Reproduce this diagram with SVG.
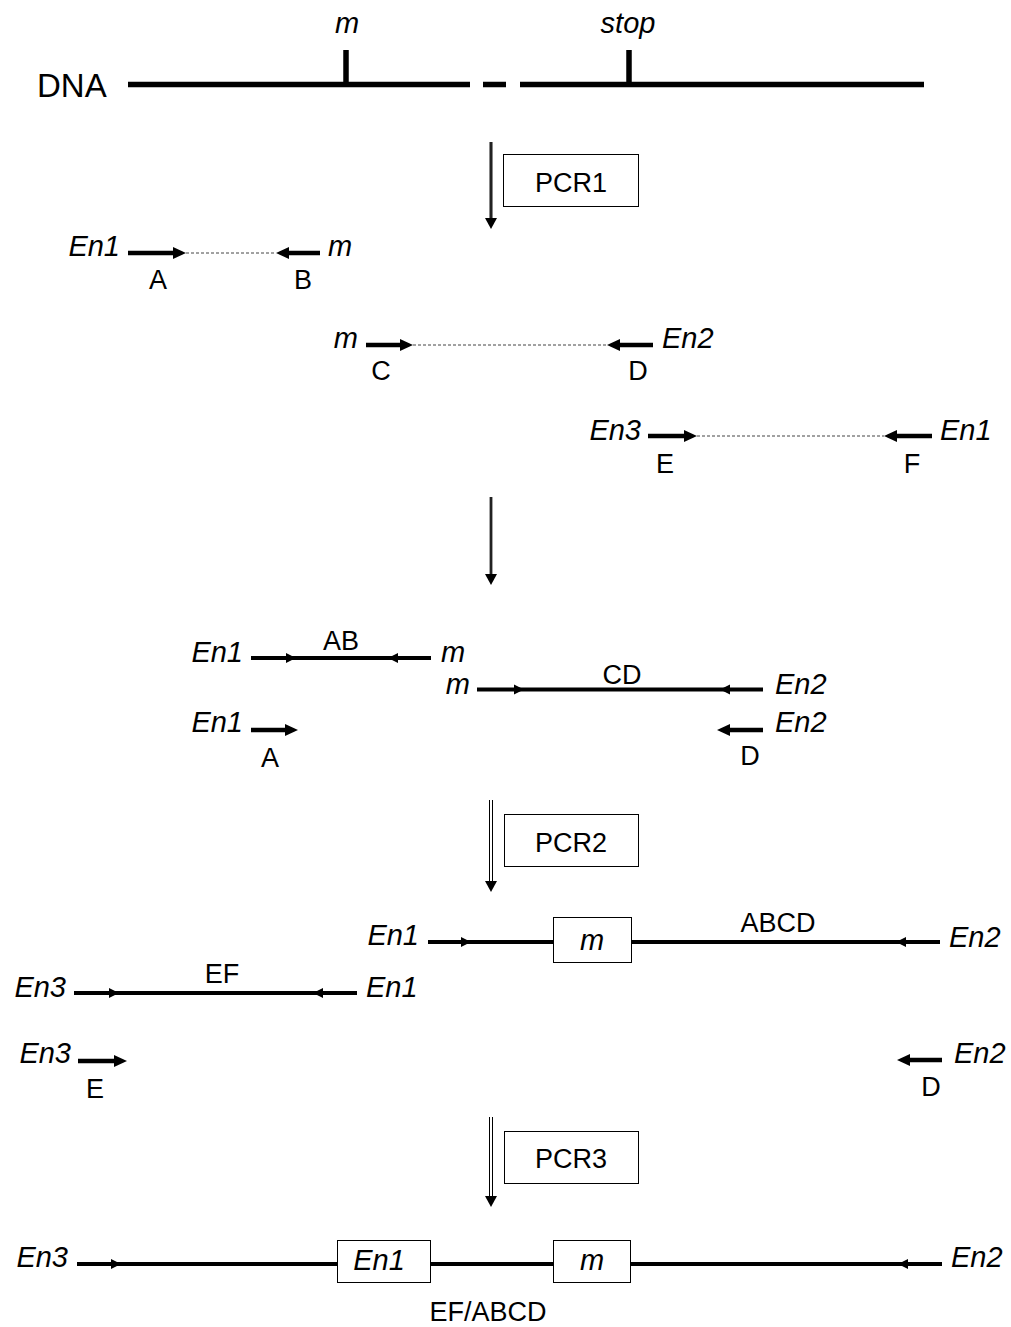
<svg xmlns="http://www.w3.org/2000/svg" xmlns:xlink="http://www.w3.org/1999/xlink" width="1011" height="1327" viewBox="0 0 1011 1327">
<style>
text{font-family:"Liberation Sans",Arial,sans-serif;fill:#000}
.it{font-style:italic;font-size:29px}
.lb{font-size:27px}
.pcr{font-size:27px}
.dna{stroke:#000;stroke-width:5.5;fill:none}
.pr{stroke:#000;stroke-width:4.5;fill:none}
.prod{stroke:#000;stroke-width:4;fill:none}
.dash{stroke:#444;stroke-width:1;stroke-dasharray:3 2;fill:none}
.box{fill:#fff;stroke:#000;stroke-width:1}
.thin{stroke:#000;stroke-width:1;fill:none}
</style>
<defs>
<polygon id="hrB" points="0,0 -13,-6 -13,6"/>
<polygon id="hlB" points="0,0 13,-6 13,6"/>
<polygon id="hrS" points="0,0 -10,-5 -10,5"/>
<polygon id="hlS" points="0,0 10,-5 10,5"/>
<polygon id="hd" points="0,0 -6,-11 6,-11"/>
</defs>
<rect width="1011" height="1327" fill="#fff"/>

<g id="dna">
<path class="dna" d="M128,84.5H470M483,84.5H506M520,84.5H924M346,50V84.5M629,50V84.5"/>
<text x="37" y="97" style="font-size:33px">DNA</text>
<text class="it" x="347" y="33" text-anchor="middle">m</text>
<text class="it" x="628" y="33" text-anchor="middle">stop</text>
</g>

<g id="pcr1">
<rect class="box" x="503.5" y="154.5" width="135" height="52"/>
<text class="pcr" x="571" y="192" text-anchor="middle">PCR1</text>
</g>
<g id="pcr2">
<rect class="box" x="504.5" y="814.5" width="134" height="52"/>
<text class="pcr" x="571" y="852" text-anchor="middle">PCR2</text>
</g>
<g id="pcr3">
<rect class="box" x="504.5" y="1131.5" width="134" height="52"/>
<text class="pcr" x="571" y="1168" text-anchor="middle">PCR3</text>
</g>

<g id="connectors">
<path d="M491,142V218" stroke="#888" stroke-width="4"/>
<path d="M491,142V218" stroke="#000" stroke-width="1.5"/>
<use xlink:href="#hd" x="491" y="229"/>
<path d="M491,497V574" stroke="#888" stroke-width="3.5"/>
<path d="M491,497V574" stroke="#000" stroke-width="1.5"/>
<use xlink:href="#hd" x="491" y="585"/>
<path class="thin" d="M489.5,800V882M492.5,800V882"/>
<use xlink:href="#hd" x="491" y="892"/>
<path class="thin" d="M489.5,1117V1197M492.5,1117V1197"/>
<use xlink:href="#hd" x="491" y="1207"/>
</g>

<g id="fragAB">
<path class="pr" d="M128,253H174M320,253H288"/>
<use xlink:href="#hrB" x="186" y="253"/>
<use xlink:href="#hlB" x="276" y="253"/>
<path class="dash" d="M186,253H276"/>
<text class="it" x="120" y="256" text-anchor="end">En1</text>
<text class="it" x="328" y="256">m</text>
<text class="lb" x="158" y="289" text-anchor="middle">A</text>
<text class="lb" x="303" y="289" text-anchor="middle">B</text>
</g>

<g id="fragCD">
<path class="pr" d="M366,345H401M653,345H619"/>
<use xlink:href="#hrB" x="413" y="345"/>
<use xlink:href="#hlB" x="607" y="345"/>
<path class="dash" d="M413,345H607"/>
<text class="it" x="358" y="348" text-anchor="end">m</text>
<text class="it" x="662" y="348">En2</text>
<text class="lb" x="381" y="380" text-anchor="middle">C</text>
<text class="lb" x="638" y="380" text-anchor="middle">D</text>
</g>

<g id="fragEF">
<path class="pr" d="M648,436H685M932,436H896"/>
<use xlink:href="#hrB" x="697" y="436"/>
<use xlink:href="#hlB" x="884" y="436"/>
<path class="dash" d="M697,436H884"/>
<text class="it" x="641" y="440" text-anchor="end">En3</text>
<text class="it" x="940" y="440">En1</text>
<text class="lb" x="665" y="473" text-anchor="middle">E</text>
<text class="lb" x="912" y="473" text-anchor="middle">F</text>
</g>

<g id="productAB">
<path class="prod" d="M251,658H431"/>
<use xlink:href="#hrS" x="296" y="658"/>
<use xlink:href="#hlS" x="388" y="658"/>
<text class="it" x="243" y="662" text-anchor="end">En1</text>
<text class="it" x="441" y="662">m</text>
<text class="lb" x="341" y="650" text-anchor="middle">AB</text>
</g>

<g id="productCD">
<path class="prod" d="M477,689.5H763"/>
<use xlink:href="#hrS" x="524" y="689.5"/>
<use xlink:href="#hlS" x="720" y="689.5"/>
<text class="it" x="470" y="694" text-anchor="end">m</text>
<text class="it" x="775" y="694">En2</text>
<text class="lb" x="622" y="684" text-anchor="middle">CD</text>
</g>

<g id="primerA">
<path class="pr" d="M251,730H286"/>
<use xlink:href="#hrB" x="298" y="730"/>
<text class="it" x="243" y="732" text-anchor="end">En1</text>
<text class="lb" x="270" y="767" text-anchor="middle">A</text>
</g>

<g id="primerD1">
<path class="pr" d="M763,730H729"/>
<use xlink:href="#hlB" x="717" y="730"/>
<text class="it" x="775" y="732">En2</text>
<text class="lb" x="750" y="765" text-anchor="middle">D</text>
</g>

<g id="productABCD">
<path class="prod" d="M428,942H940"/>
<use xlink:href="#hrS" x="471" y="942"/>
<use xlink:href="#hlS" x="896" y="942"/>
<rect class="box" x="553.5" y="917.5" width="78" height="45"/>
<text class="it" x="592" y="950" text-anchor="middle">m</text>
<text class="it" x="419" y="945" text-anchor="end">En1</text>
<text class="it" x="949" y="947">En2</text>
<text class="lb" x="778" y="932" text-anchor="middle">ABCD</text>
</g>

<g id="productEF">
<path class="prod" d="M74,993H357"/>
<use xlink:href="#hrS" x="119" y="993"/>
<use xlink:href="#hlS" x="313" y="993"/>
<text class="it" x="66" y="997" text-anchor="end">En3</text>
<text class="it" x="366" y="997">En1</text>
<text class="lb" x="222" y="983" text-anchor="middle">EF</text>
</g>

<g id="primerE">
<path class="pr" d="M78,1061H115"/>
<use xlink:href="#hrB" x="127" y="1061"/>
<text class="it" x="71" y="1063" text-anchor="end">En3</text>
<text class="lb" x="95" y="1098" text-anchor="middle">E</text>
</g>

<g id="primerD2">
<path class="pr" d="M942,1060H909"/>
<use xlink:href="#hlB" x="897" y="1060"/>
<text class="it" x="954" y="1063">En2</text>
<text class="lb" x="931" y="1096" text-anchor="middle">D</text>
</g>

<g id="productEFABCD">
<path class="prod" d="M77,1264H942"/>
<use xlink:href="#hrS" x="121" y="1264"/>
<use xlink:href="#hlS" x="898" y="1264"/>
<rect class="box" x="337.5" y="1240.5" width="93" height="42"/>
<rect class="box" x="553.5" y="1240.5" width="77" height="42"/>
<text class="it" x="379" y="1270" text-anchor="middle">En1</text>
<text class="it" x="592" y="1270" text-anchor="middle">m</text>
<text class="it" x="68" y="1267" text-anchor="end">En3</text>
<text class="it" x="951" y="1267">En2</text>
<text class="lb" x="488" y="1321" text-anchor="middle">EF/ABCD</text>
</g>
</svg>
